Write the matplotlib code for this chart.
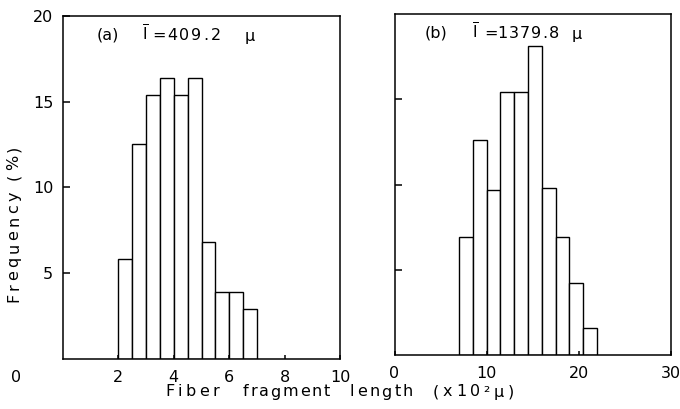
import numpy as np
import matplotlib
matplotlib.use("Agg")
import matplotlib.pyplot as plt
from matplotlib.font_manager import FontProperties, findfont, get_font

## Data

# (a) bins are 0.5 x10^2 micron wide
bins_a = [2.0, 2.5, 3.0, 3.5, 4.0, 4.5, 5.0, 5.5, 6.0, 6.5]
freq_a = [5.8, 12.5, 15.4, 16.4, 15.4, 16.4, 6.8, 3.9, 3.9, 2.9]
width_a = 0.5

# (b) bins are 1.5 x10^2 micron wide
bins_b = [7.0, 8.5, 10.0, 11.5, 13.0, 14.5, 16.0, 17.5, 19.0, 20.5]
freq_b = [6.9, 12.6, 9.7, 15.4, 15.4, 18.1, 9.8, 6.9, 4.2, 1.6]
width_b = 1.5

xticks_a = [2, 4, 6, 8, 10]
xticks_b = [0, 10, 20, 30]
yticks = [5, 10, 15, 20]

mean_a = "409.2"
mean_b = "1379.8"

W, H = 680, 409
FS = 11.5
LW = 1.1

fig = plt.figure(figsize=(W / 100, H / 100), dpi=100)


def rect(x0, y0, x1, y1):
    # pixel box (top-left origin) -> figure fraction
    return [x0 / W, 1 - y1 / H, (x1 - x0) / W, (y1 - y0) / H]


ax1 = fig.add_axes(rect(63, 16, 340, 358.5))
ax2 = fig.add_axes(rect(394.5, 14, 670.5, 355))

for ax in (ax1, ax2):
    for sp in ax.spines.values():
        sp.set_linewidth(LW)
    ax.set_ylim(0, 20)
    ax.tick_params(direction="in", width=LW, labelsize=FS)
    ax.tick_params(axis="x", length=3, pad=8)
    ax.tick_params(axis="y", length=5, pad=7)

ax1.bar(bins_a, freq_a, width=width_a, align="edge",
        facecolor="white", edgecolor="black", linewidth=1.0)
ax1.set_xlim(0, 10)
ax1.set_xticks(xticks_a)
ax1.set_yticks(yticks)

ax2.bar(bins_b, freq_b, width=width_b, align="edge",
        facecolor="white", edgecolor="black", linewidth=1.0)
ax2.set_xlim(0, 30)
ax2.set_xticks(xticks_b)
ax2.set_yticks(yticks[:-1])
ax2.set_yticklabels([])

# lone origin label of the left panel
fig.text(16 / W, 1 - 378 / H, "0", fontsize=FS, va="center", ha="center")

## letter-spaced text (the scan uses a wide, tracked lettering)

prop = FontProperties(family="DejaVu Sans", size=FS)
font = get_font(findfont(prop))
font.set_size(FS, 100)


def adv(ch):
    return font.load_char(ord(ch)).linearHoriAdvance / 65536


def spaced(s, x, y, track, vertical=False):
    pos = 0.0
    for ch in s:
        a = adv(ch)
        if ch != " ":
            c = pos + a / 2
            if vertical:
                fig.text(x / W, 1 - (y - c) / H, ch, fontproperties=prop,
                         rotation=90, rotation_mode="anchor", ha="center", va="center")
            else:
                fig.text((x + c) / W, 1 - y / H, ch, fontproperties=prop,
                         ha="center", va="center")
        pos += a + track


# panel notes
fig.text(97 / W, 1 - 35 / H, "(a)", fontsize=FS, va="center", ha="left")
fig.text(142 / W, 1 - 34 / H, r"$\overline{\mathrm{l}}$", fontsize=FS, va="center", ha="left")
spaced("=", 152, 35, 0)
spaced(mean_a, 167, 35, 2.0)
spaced("μ", 245, 36, 0)

fig.text(425 / W, 1 - 33 / H, "(b)", fontsize=FS, va="center", ha="left")
fig.text(472 / W, 1 - 32 / H, r"$\overline{\mathrm{l}}$", fontsize=FS, va="center", ha="left")
spaced("=", 484, 33, 0)
spaced(mean_b, 497, 33, 1.2)
spaced("μ", 572, 34, 0)

# axis titles
spaced("Fiber", 165, 392, 3.5)
spaced("fragment", 243, 392, 1.8)
spaced("length", 350, 392, 2.4)
spaced("(x10²μ)", 433, 392, 3.6)
spaced("Frequency (%)", 14, 302, 3.3, vertical=True)

fig.savefig("out.png", dpi=100)
